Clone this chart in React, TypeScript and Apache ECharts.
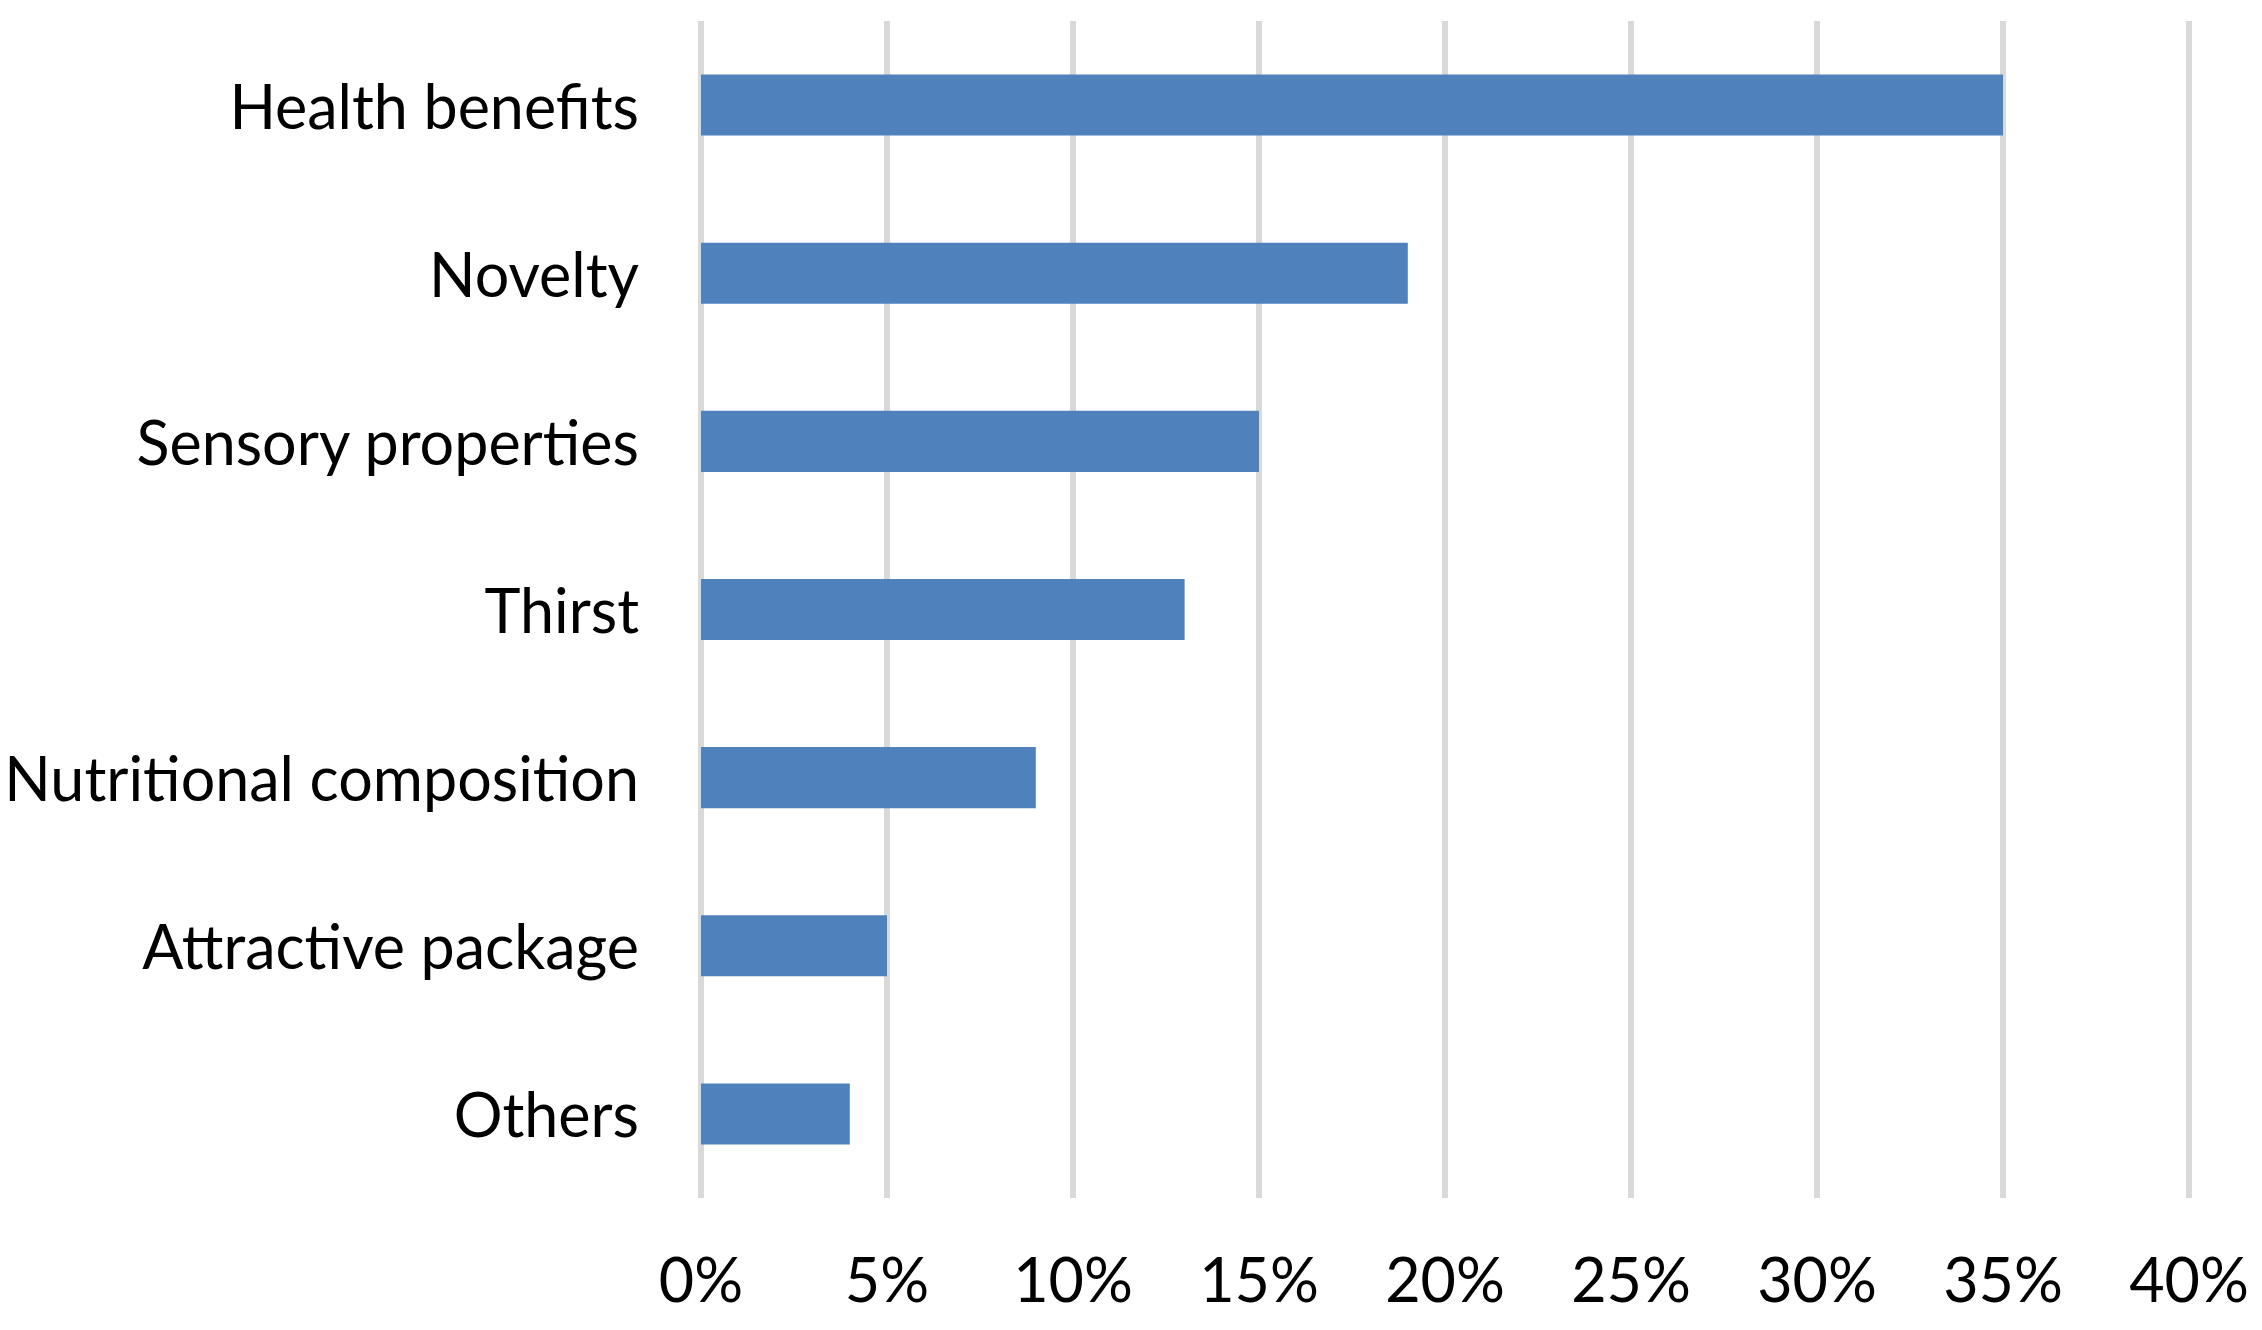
import React, { useEffect, useRef } from "react";
import * as echarts from "echarts";

const categories = [
  "Health benefits",
  "Novelty",
  "Sensory properties",
  "Thirst",
  "Nutritional composition",
  "Attractive package",
  "Others",
];
const values = [35, 19, 15, 13, 9, 5, 4];
const axisMax = 40;
const axisStep = 5;

const FONT = "Lato, 'Open Sans', sans-serif";

export default function App() {
  const ref = useRef<HTMLDivElement>(null);
  useEffect(() => {
    document.body.style.margin = "0";
    const chart = echarts.init(ref.current!, undefined, { renderer: "svg" });
    chart.setOption({
      animation: false,
      backgroundColor: "#ffffff",
      grid: { left: 701, top: 21, width: 1488, height: 1177, containLabel: false },
      xAxis: {
        type: "value",
        min: 0,
        max: axisMax,
        interval: axisStep,
        axisLine: { show: false },
        axisTick: { show: false },
        splitLine: { show: true, lineStyle: { color: "#d9d9d9", width: 6 } },
        axisLabel: {
          formatter: "{value}%",
          color: "#000000",
          fontFamily: FONT,
          fontSize: 61,
          margin: 50,
        },
      },
      yAxis: {
        type: "category",
        data: categories,
        inverse: true,
        axisLine: { show: false },
        axisTick: { show: false },
        splitLine: { show: false },
        axisLabel: {
          color: "#000000",
          fontFamily: FONT,
          fontSize: 61,
          margin: 62,
          padding: [0, 0, 6, 0],
        },
      },
      series: [
        {
          type: "bar",
          data: values,
          barCategoryGap: "63.7%",
          itemStyle: { color: "#4f81bd" },
        },
      ],
    });
    return () => chart.dispose();
  }, []);
  return <div ref={ref} style={{ width: 2262, height: 1330 }} />;
}
